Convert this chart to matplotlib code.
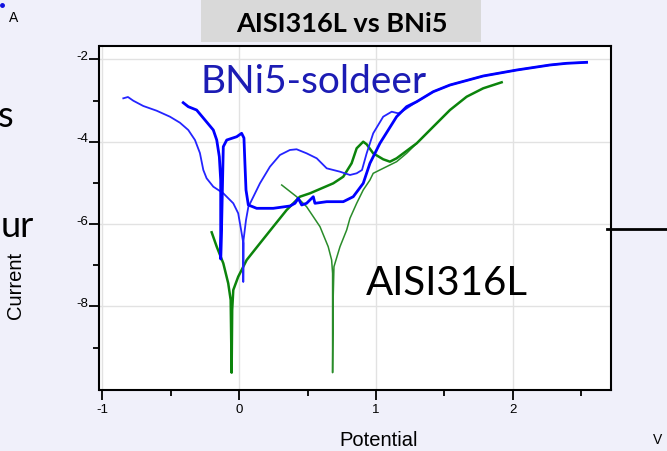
"""Polarisation curves AISI316L vs BNi5 (slide screenshot)."""

import matplotlib

matplotlib.use("Agg")
import matplotlib.pyplot as plt
import matplotlib.transforms as mtransforms
from matplotlib.patches import Rectangle
from matplotlib.lines import Line2D

plt.rcParams["axes.unicode_minus"] = False

W, H = 667, 451
BG = "#f0f0fa"

# BNi5 - first scan (thin line): potential (V), log current (A)
bni5_a_e = [-0.847, -0.813, -0.774, -0.701, -0.603, -0.506, -0.433, -0.372, -0.323,
            -0.287, -0.262, -0.238, -0.189, -0.116, -0.043, -0.007, 0.018, 0.030,
            0.030, 0.032, 0.050, 0.067, 0.152, 0.225, 0.298, 0.371, 0.420, 0.493,
            0.567, 0.640, 0.737, 0.810, 0.859, 0.898, 0.932, 0.980, 1.053, 1.115,
            1.163, 1.188, 1.298, 1.419, 1.541, 1.784, 2.029, 2.272, 2.394, 2.540]
bni5_a_i = [-2.947, -2.915, -3.005, -3.133, -3.248, -3.393, -3.539, -3.716, -3.959,
            -4.274, -4.687, -4.888, -5.092, -5.252, -5.495, -5.738, -6.216, -6.459,
            -7.405, -6.386, -5.900, -5.585, -5.010, -4.607, -4.323, -4.201, -4.184, -4.282,
            -4.403, -4.646, -4.728, -4.808, -4.767, -4.687, -4.282, -3.796, -3.393, -3.272,
            -3.311, -3.272, -3.029, -2.786, -2.624, -2.405, -2.260, -2.138, -2.097, -2.073]

# BNi5 - second scan (thick line)
bni5_b_e = [-0.409, -0.372, -0.311, -0.250, -0.189, -0.164, -0.145, -0.135, -0.135,
            -0.129, -0.116, -0.091, -0.018, 0.018, 0.035, 0.042, 0.050, 0.067, 0.128,
            0.249, 0.371, 0.408, 0.432, 0.457, 0.493, 0.542, 0.554, 0.640, 0.761,
            0.834, 0.907, 0.956, 1.029, 1.151, 1.224, 1.298, 1.419, 1.541, 1.784,
            2.029, 2.272, 2.394, 2.540]
bni5_b_i = [-3.053, -3.150, -3.231, -3.473, -3.716, -3.959, -4.364, -4.930, -6.847,
            -6.143, -4.121, -3.959, -3.879, -3.796, -3.910, -4.517, -5.172, -5.536, -5.617,
            -5.617, -5.561, -5.495, -5.374, -5.536, -5.495, -5.335, -5.495, -5.456, -5.456,
            -5.335, -5.010, -4.524, -4.039, -3.393, -3.150, -3.029, -2.786, -2.624, -2.405,
            -2.260, -2.138, -2.097, -2.073]

# AISI316L - first scan (thick line)
aisi_a_e = [-0.201, -0.164, -0.116, -0.080, -0.062, -0.055, -0.051, -0.043, -0.007,
            0.055, 0.152, 0.249, 0.347, 0.444, 0.518, 0.688, 0.761, 0.822, 0.859,
            0.907, 0.932, 0.980, 1.053, 1.102, 1.151, 1.200, 1.298, 1.419, 1.541,
            1.663, 1.784, 1.919]
aisi_a_i = [-6.199, -6.549, -6.951, -7.437, -7.842, -9.607, -8.085, -7.600, -7.277,
            -6.871, -6.466, -6.063, -5.658, -5.335, -5.252, -5.010, -4.850, -4.524, -4.160,
            -4.000, -4.063, -4.282, -4.427, -4.485, -4.403, -4.282, -4.039, -3.636, -3.231,
            -2.908, -2.704, -2.558]

# AISI316L - second scan (thin line)
aisi_b_e = [0.311, 0.420, 0.493, 0.542, 0.591, 0.651, 0.676, 0.683, 0.683, 0.687,
            0.693, 0.737, 0.786, 0.810, 0.859, 0.907, 0.956, 0.980, 1.053, 1.151,
            1.224, 1.298, 1.419, 1.541]
aisi_b_i = [-5.051, -5.335, -5.578, -5.820, -6.063, -6.549, -6.871, -7.194, -9.607, -7.842,
            -7.034, -6.549, -6.143, -5.859, -5.495, -5.172, -4.930, -4.767, -4.646, -4.485,
            -4.282, -4.039, -3.636, -3.231]

x_major = [-1, 0, 1, 2]
x_minor = [-0.5, 0.5, 1.5, 2.5]
y_major = [-2, -4, -6, -8]
y_minor = [-3, -5, -7, -9]


def fx(px):
    return px / W


def fy(py):
    return 1 - py / H


fig = plt.figure(figsize=(W / 100, H / 100), dpi=100, facecolor=BG)
ax = fig.add_axes([fx(99.5), fy(390), (611.5 - 99.5) / W, (390 - 46) / H])
ax.set_facecolor("white")

ax.plot(aisi_b_e, aisi_b_i, color="#2a8c2a", lw=1.1)
ax.plot(aisi_a_e, aisi_a_i, color="#0c840c", lw=1.8)
ax.plot(bni5_a_e, bni5_a_i, color="#2424ff", lw=1.3)
ax.plot(bni5_b_e, bni5_b_i, color="#0000ff", lw=2.0)

ax.set_xlim(-1.021, 2.722)
ax.set_ylim(-10.027, -1.677)
ax.set_xticks(x_major)
ax.set_xticks(x_minor, minor=True)
ax.set_yticks(y_major)
ax.set_yticks(y_minor, minor=True)
ax.grid(True, which="major", color="#e2e2e2", lw=1)
ax.tick_params(which="both", direction="out", color="black", width=1.3,
               labelsize=9.5, labelfontfamily="Liberation Sans")
ax.tick_params(which="major", length=7)
ax.tick_params(which="minor", length=4.3)
ax.tick_params(axis="y", pad=1)
ax.tick_params(axis="x", pad=3)
shift_up = mtransforms.ScaledTranslation(0, 4 / 100, fig.dpi_scale_trans)
for lab in ax.get_yticklabels():
    lab.set_transform(lab.get_transform() + shift_up)
for s in ax.spines.values():
    s.set_linewidth(1.5)
    s.set_color("black")

# in-plot labels (left edge / baseline, placed in figure pixels)
fig.text(fx(201), fy(93), "BNi5-soldeer", color="#1c1cb4", fontsize=28,
         family="Lato", ha="left", va="baseline")
fig.text(fx(366), fy(295), "AISI316L", color="black", fontsize=29,
         family="Lato", ha="left", va="baseline")

# slide decorations around the chart
fig.patches.append(Rectangle((fx(201), fy(42)), 280 / W, 42 / H, transform=fig.transFigure,
                             facecolor="#d9d9d9", edgecolor="none"))
fig.text(fx(341.5), fy(32.3), "AISI316L vs BNi5", fontsize=19.5, fontweight="bold",
         family="Lato", ha="center", va="baseline")
fig.text(fx(15.5), fy(285), "Current", rotation=90, fontsize=14.5,
         family="Liberation Sans", ha="center", va="center")
fig.text(fx(379), fy(440), "Potential", fontsize=14.5, family="Liberation Sans",
         ha="center", va="center")
fig.text(fx(14), fy(18), "A", fontsize=10, family="Liberation Sans", ha="center", va="center")
fig.text(fx(658), fy(440), "V", fontsize=10, family="Liberation Sans", ha="center", va="center")
fig.text(fx(13), fy(127), "s", fontsize=26, family="Lato", ha="right", va="baseline")
fig.text(fx(34), fy(237), "ur", fontsize=26, family="Lato", ha="right", va="baseline")
fig.add_artist(Line2D([fx(607), fx(667)], [fy(229.3), fy(229.3)], color="black", lw=2,
                      transform=fig.transFigure))
fig.add_artist(Line2D([fx(2)], [fy(5)], marker="o", ms=2.5, color="#1010e0",
                      transform=fig.transFigure))

fig.savefig("out.png", dpi=100, facecolor=BG)
